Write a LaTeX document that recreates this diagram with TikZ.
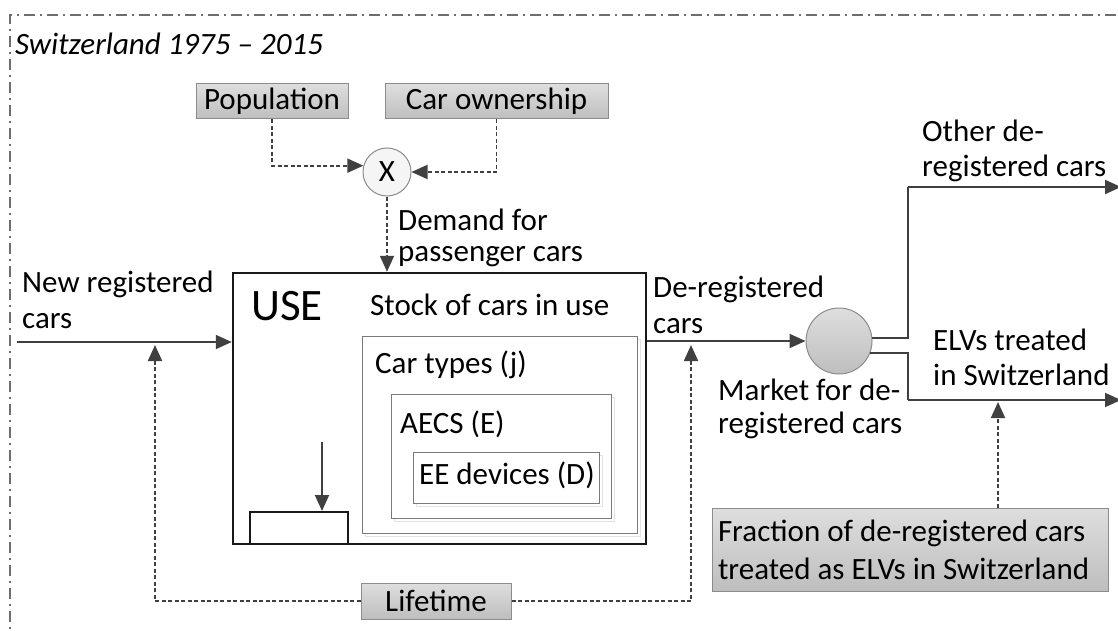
\documentclass[tikz,border=0pt]{standalone}
\usepackage{fontspec}
\setmainfont{Carlito}
\usetikzlibrary{arrows.meta,calc}
\definecolor{ink}{HTML}{404040}
\definecolor{boxedge}{HTML}{8C8C8C}
\definecolor{nestedge}{HTML}{7A7A7A}
\definecolor{ghostedge}{HTML}{E2E2E2}
\definecolor{frameink}{HTML}{6E6E6E}
\definecolor{gtop}{HTML}{DEDEDE}
\definecolor{gbot}{HTML}{BEBEBE}
% two stacked lines; baseline of the block is the baseline of the first line
\newcommand{\twoln}[3]{\vtop{\baselineskip=#3pt\hbox{#1}\hbox{#2}}}
\tikzset{
  txt/.style={anchor=base west, inner sep=0pt, font=\fontsize{31}{36}\selectfont},
  gbox/.style={draw=boxedge, line width=1pt, top color=gtop, bottom color=gbot,
               inner sep=0pt, font=\fontsize{31}{36}\selectfont},
  nest/.style={draw=nestedge, line width=1pt, fill=white, inner sep=0pt},
  ghost/.style={draw=ghostedge, line width=1pt},
  flow/.style={draw=ink, line width=2pt, -{Triangle[length=16pt,width=14pt]}},
  plain/.style={draw=ink, line width=2pt},
  info/.style={draw=ink, line width=1.9pt, dash pattern=on 4pt off 2.5pt,
               -{Triangle[length=16pt,width=14pt]}},
  framestyle/.style={draw=frameink, line width=1.3pt,
               dash pattern=on 11pt off 5pt on 2pt off 5pt},
}
\begin{document}
\begin{tikzpicture}[x=1pt, y=-1pt]
\useasboundingbox (0,0) rectangle (1118,631);

% system boundary
\coordinate (fbl) at (10,645);
\coordinate (ftl) at (10,15);
\coordinate (ftr) at (1130,15);
\draw[framestyle] (fbl) -- (ftl) -- (ftr);
\node[txt, font=\fontsize{31}{36}\selectfont\itshape] (title) at (15,55) {Switzerland 1975 – 2015};

% drivers of demand
\node[gbox, minimum width=152pt, minimum height=35pt] (pop) at (272,101.5) {Population};
\node[gbox, minimum width=223pt, minimum height=35pt] (own) at (496.5,101.5) {Car ownership};
\node[circle, draw=boxedge, line width=1pt, fill=black!4, minimum size=48pt, inner sep=0pt,
      font=\fontsize{31}{36}\selectfont] (mult) at (387,172) {X};
\draw[info] (pop.south) |- (mult.165);
\draw[info] (own.south) |- (mult.east);

% use stock
\node[draw=black!90, line width=2.5pt, minimum width=413pt, minimum height=271pt, inner sep=0pt] (use) at (439.5,408.5) {};
\draw[info] (mult.south) -- (mult.south |- use.north);
\node[txt] (demand) at (398,230) {\twoln{Demand for}{passenger cars}{31}};

\node[txt, font=\fontsize{45}{45}\selectfont] (uselbl) at (251,320) {USE};
\node[txt] (stock) at (370,315) {Stock of cars in use};

% nested levels
\draw[ghost] (365.5,339.5) rectangle (640.5,536.5);
\node[nest, minimum width=275pt, minimum height=197pt] (types) at (499.5,434.5) {};
\draw[ghost] (394.5,397.5) rectangle (614.5,521.5);
\node[nest, minimum width=220pt, minimum height=124pt] (aecs) at (501,456) {};
\draw[ghost] (416.5,455.5) rectangle (602.5,506.5);
\node[nest, minimum width=186pt, minimum height=51pt] (ee) at (506,477.5) {};
\node[txt] (typeslbl) at (375,373) {Car types (j)};
\node[txt] (aecslbl) at (400,433) {AECS (E)};
\node[txt] (eelbl) at (419,484) {EE devices (D)};

% stock change
\node[draw=black!90, line width=2pt, minimum width=98pt, minimum height=32pt, inner sep=0pt] (dstock) at (299,528) {};
\coordinate (dsin) at (322,442);
\draw[flow] (dsin) -- (dsin |- dstock.north);

% inflow
\coordinate (nrstart) at (17,342);
\draw[flow] (nrstart) -- (nrstart -| use.west);
\node[txt] (newreg) at (22,292) {\twoln{New registered}{cars}{36}};

% outflow to the market
\node[circle, draw=boxedge, line width=1pt, top color=gtop, bottom color=gbot,
      minimum size=66pt, inner sep=0pt] (mk) at (839,341) {};
\draw[flow] (mk.west -| use.east) -- (mk.west);
\node[txt] (dereg) at (653,297) {\twoln{De-registered}{cars}{36}};
\node[txt] (market) at (718,400) {\twoln{Market for de-}{registered cars}{33}};

% split of de-registered cars
\coordinate (splitup) at (908,187);
\coordinate (othend) at (1121,187);
\draw[plain] (mk.5) -| (splitup);
\draw[flow] (splitup) -- (othend);
\node[txt] (other) at (922,142) {\twoln{Other de-}{registered cars}{35}};

\coordinate (splitdn) at (908,400);
\coordinate (elvend) at (1121,400);
\draw[plain] (mk.-21) -| (splitdn);
\draw[flow] (splitdn) -- (elvend);
\node[txt] (elv) at (933,350) {\twoln{ELVs treated}{in Switzerland}{35}};

% fraction treated domestically
\node[gbox, minimum width=396pt, minimum height=83pt, text width=384pt, align=flush left,
      font=\fontsize{31}{38}\selectfont] (frac) at (910,549.5)
      {Fraction of de-registered cars\\treated as ELVs in Switzerland};
\coordinate (fracto) at (998,402);
\draw[info] (frac.north -| fracto) -- (fracto);

% lifetime
\node[gbox, minimum width=150pt, minimum height=36pt] (life) at (436,601) {Lifetime};
\coordinate (ltin) at (155,345);
\coordinate (ltout) at (691,345);
\draw[info] (life.west) -| (ltin);
\draw[info] (life.east) -| (ltout);
\end{tikzpicture}
\end{document}
